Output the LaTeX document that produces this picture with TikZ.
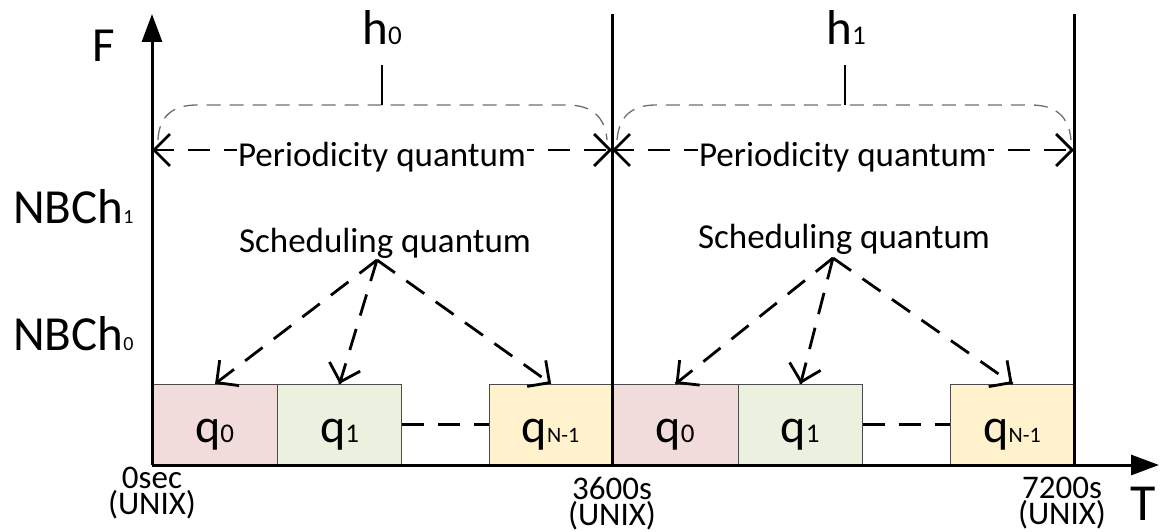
\documentclass[tikz,border=0pt]{standalone}
\usepackage{fontspec}
\setmainfont{Carlito}
\usetikzlibrary{arrows.meta,calc}
\definecolor{pinkq}{HTML}{F2DCDB}
\definecolor{greenq}{HTML}{EBF1DE}
\definecolor{yellowq}{HTML}{FFF2CC}
\definecolor{bracegray}{HTML}{6E6E6E}
\newcommand{\myfs}[1]{\fontsize{#1}{#1}\selectfont}
\newcommand{\mysub}[2]{{\fontsize{#1}{#1}\selectfont #2}}
\begin{document}
\begin{tikzpicture}[x=1pt,y=-1pt,
  axisarrow/.style={line width=3pt,-{Triangle[length=28pt,width=20pt]}},
  vline/.style={line width=3pt},
  darrow/.style={line width=2.8pt,dash pattern=on 22pt off 14pt},
  tipseg/.style={line width=2.8pt,solid,-{Straight Barb[length=16pt,width=32pt]}},
  qbox/.style={draw=black!70,line width=1.2pt,minimum height=80pt,inner sep=0pt,anchor=south west},
  qlabel/.style={anchor=base,inner sep=0pt,font=\myfs{48}},
  biglabel/.style={anchor=base,inner sep=0pt,font=\myfs{49}},
  midtext/.style={anchor=base,inner sep=1.5pt,font=\myfs{35}},
  timelabel/.style={anchor=north,inner sep=0pt,align=center,font=\fontsize{33}{26}\selectfont},
  brace/.style={draw=bracegray,line width=1.3pt,dash pattern=on 14pt off 9pt},
  bracket/.style={draw=black,line width=1.2pt}
]
\useasboundingbox (0,0) rectangle (1160,532);

% boxes
\node[qbox,fill=pinkq,minimum width=125pt] (a0) at (152,465) {};
\node[qbox,fill=greenq,minimum width=124pt] (a1) at (277,465) {};
\node[qbox,fill=yellowq,minimum width=123pt] (a2) at (489,465) {};
\node[qbox,fill=pinkq,minimum width=126pt] (a3) at (612,465) {};
\node[qbox,fill=greenq,minimum width=124pt] (a4) at (738,465) {};
\node[qbox,fill=yellowq,minimum width=124pt] (a5) at (950,465) {};

\node[qlabel] (l0) at (214.5,442) {q\mysub{27}{0}};
\node[qlabel] (l1) at (339.5,442) {q\mysub{27}{1}};
\node[qlabel] (l2) at (550.5,442) {q\mysub{22}{N-1}};
\node[qlabel] (l3) at (675,442) {q\mysub{27}{0}};
\node[qlabel] (l4) at (800,442) {q\mysub{27}{1}};
\node[qlabel] (l5) at (1012,442) {q\mysub{22}{N-1}};

\draw[darrow] (a1.east) -- (a2.west);
\draw[darrow] (a4.east) -- (a5.west);

% axes and vertical lines
\coordinate (o) at (152,465);
\coordinate (ytop) at (152,14);
\coordinate (xend) at (1159,465);
\coordinate (v1t) at (612,14);
\coordinate (v1b) at (612,465);
\coordinate (v2t) at (1074,14);
\coordinate (v2b) at (1074,465);
\draw[vline] (v1t) -- (v1b);
\draw[vline] (v2t) -- (v2b);
\draw[axisarrow] (o) -- (ytop);
\draw[axisarrow] (o) -- (xend);

% axis labels
\node[biglabel] (F) at (104,62) {F};
\node[anchor=base,inner sep=0pt,font=\myfs{52}] (T) at (1143,520) {T};
\node[biglabel,anchor=base west] (nb1) at (13,223) {NBCh\mysub{20}{1}};
\node[biglabel,anchor=base west] (nb0) at (13,350) {NBCh\mysub{20}{0}};
\node[timelabel] (t0) at (152,467) {0sec\\(UNIX)};
\node[timelabel] (t1) at (612,477) {3600s\\(UNIX)};
\node[timelabel] (t2) at (1062,477) {7200s\\(UNIX)};

% braces
\draw[brace] (158,140) .. controls (159,116) and (173,105) .. (197,105) -- (567,105) .. controls (591,105) and (605,116) .. (607,140);
\draw[brace] (617,140) .. controls (619,116) and (632,105) .. (656,105) -- (1031,105) .. controls (1055,105) and (1069,116) .. (1071,140);
\draw[bracket] (382,105) -- (382,65);
\draw[bracket] (845,105) -- (845,65);
\node[biglabel] (h0) at (382,45) {h\mysub{27}{0}};
\node[biglabel] (h1) at (846,45) {h\mysub{27}{1}};

% periodicity arrows
\coordinate (p0) at (152,150);
\coordinate (p1) at (612,150);
\coordinate (p2) at (1074,150);
\draw[darrow] (p0) -- (p1);
\draw[darrow] (p1) -- (p2);
\draw[tipseg] ($(p0)!4pt!(p1)$) -- (p0);
\draw[tipseg] ($(p1)!4pt!(p0)$) -- (p1);
\draw[tipseg] ($(p1)!4pt!(p2)$) -- (p1);
\draw[tipseg] ($(p2)!4pt!(p1)$) -- (p2);
\node[midtext,fill=white] (per0) at (382,167) {Periodicity quantum};
\node[midtext,fill=white] (per1) at (843,167) {Periodicity quantum};

% scheduling arrows
\node[midtext] (sch0) at (385,252) {Scheduling quantum};
\node[midtext] (sch1) at (844,248) {Scheduling quantum};
\coordinate (s0) at (377,260);
\coordinate (s1) at (833,258);
\foreach \s/\t in {s0/a0,s0/a1,s0/a2,s1/a3,s1/a4,s1/a5}{
  \draw[darrow] (\s) -- (\t.north);
  \draw[tipseg] ($(\t.north)!4pt!(\s)$) -- (\t.north);
}
\end{tikzpicture}
\end{document}
